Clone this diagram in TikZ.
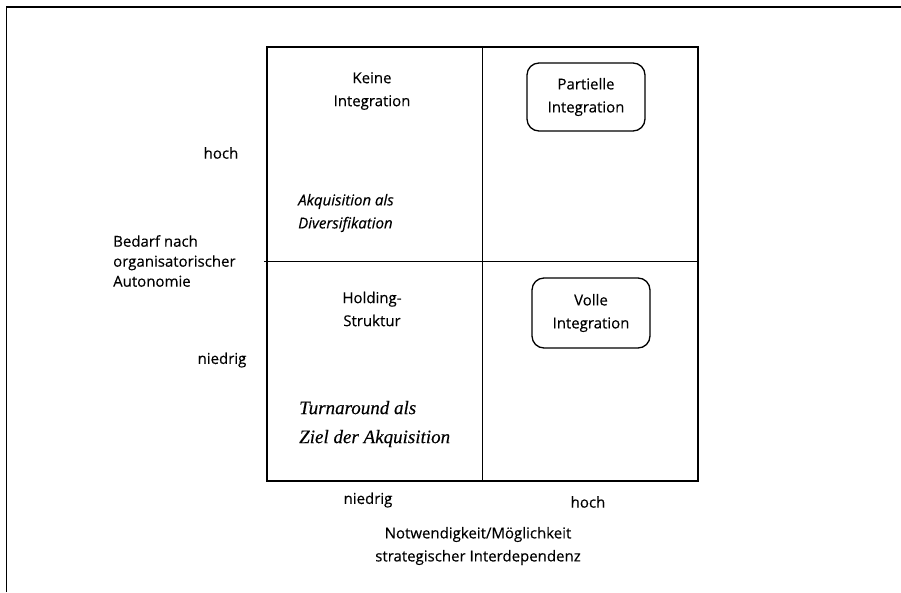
\documentclass[tikz,border=0pt]{standalone}
\usepackage{fontspec}
\setmainfont{Open Sans}[FakeBold=0.25]
\newfontfamily\timesfont{Liberation Serif}[FakeBold=0.25]
\begin{document}
\begin{tikzpicture}[x=1pt,y=-1pt,
  lab/.style={inner sep=0pt, font=\fontsize{15}{23}\selectfont, align=center},
  labl/.style={inner sep=0pt, font=\fontsize{15}{20}\selectfont, align=left},
  itsans/.style={inner sep=0pt, font=\fontsize{15}{23}\selectfont\itshape, align=left},
  itserif/.style={inner sep=0pt, font=\timesfont\fontsize{19}{29}\selectfont\itshape, align=left},
  rbox/.style={draw, line width=1.3pt, rounded corners=12pt, inner sep=0pt, align=center,
    font=\fontsize{15}{23}\selectfont},
  divider/.style={line width=0.9pt}]
\useasboundingbox (0,0) rectangle (901,592);
% outer frame
\coordinate (fbl) at (6.5,592);
\coordinate (ftl) at (6.5,7);
\coordinate (ftr) at (901,7);
\draw[line width=1.3pt] (fbl) -- (ftl) -- (ftr);
% matrix
\node[draw, line width=1.6pt, minimum width=431pt, minimum height=434pt, inner sep=0pt] (mat) at (482.5,264) {};
\draw[divider] (mat.north) -- (mat.south);
\draw[divider] ([yshift=3pt,xshift=-2pt]mat.west) -- ([yshift=3pt]mat.east);
% quadrant texts
\node[lab] (keine) at (372,91) {Keine\\Integration};
\node[itsans, anchor=west] (akq) at (298,213) {Akquisition als\\Diversifikation};
\node[lab] (hold) at (372,309) {Holding-\\Struktur};
\node[itserif, anchor=west] (turn) at (299,424) {Turnaround als\\Ziel der Akquisition};
\node[rbox, minimum width=118pt, minimum height=68pt] (part) at (586,97) {Partielle\\Integration};
\node[rbox, minimum width=118pt, minimum height=70pt] (voll) at (591,313) {Volle\\Integration};
% axis labels
\node[lab] (yhoch) at (221,153) {hoch};
\node[lab] (yniedrig) at (222,360) {niedrig};
\node[labl, anchor=west] (yaxis) at (113,261) {Bedarf nach\\organisatorischer\\Autonomie};
\node[lab] (xniedrig) at (368,500) {niedrig};
\node[lab] (xhoch) at (588,502) {hoch};
\node[lab] (xaxis) at (478,546) {Notwendigkeit/M\"oglichkeit\\strategischer Interdependenz};
\end{tikzpicture}
\end{document}
